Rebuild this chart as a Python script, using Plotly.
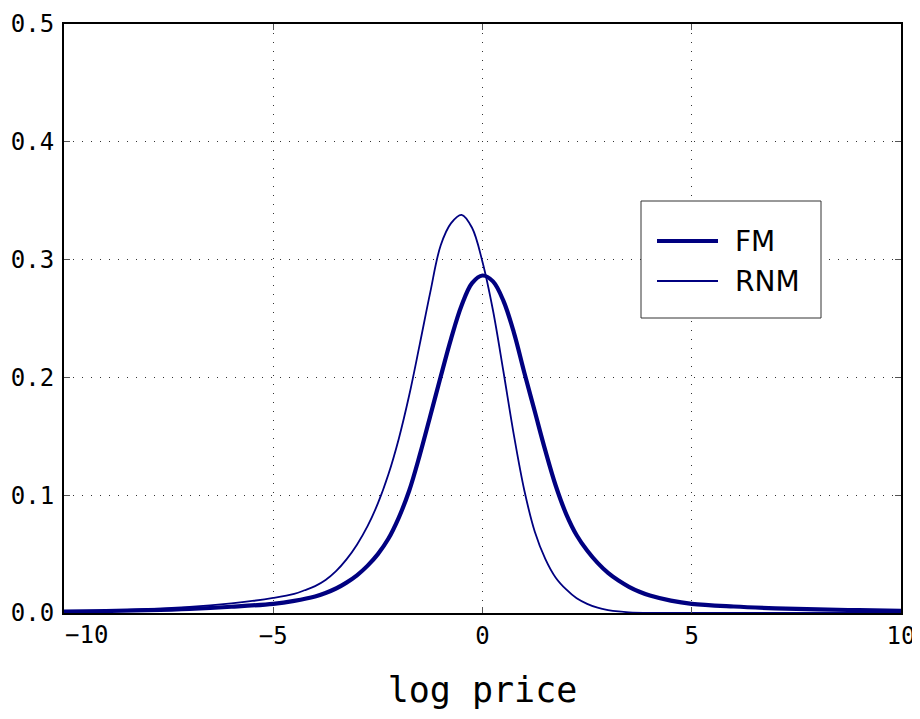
import plotly.graph_objects as go

# ---- data ----
fm_x = [-10, -9, -8, -7, -6, -5, -4.5, -4, -3.75, -3.5, -3.25, -3.0, -2.75, -2.5, -2.25,
        -2.0, -1.75, -1.5, -1.25, -1.0, -0.75, -0.5, -0.25, 0, 0.25, 0.5, 0.75, 1.0, 1.25,
        1.5, 1.75, 2.0, 2.25, 2.5, 2.75, 3.0, 3.25, 3.5, 3.75, 4.0, 4.5, 5, 6, 7, 8, 9, 10]
fm_y = [0.0012, 0.0017, 0.0024, 0.0035, 0.0053, 0.0078, 0.0103, 0.0140, 0.0170, 0.0208,
        0.0258, 0.0320, 0.0400, 0.0500, 0.0630, 0.0810, 0.1040, 0.1340, 0.1670, 0.2005,
        0.2330, 0.2610, 0.2800, 0.2865, 0.2815, 0.2650, 0.2380, 0.2040, 0.1710, 0.1380,
        0.1080, 0.0840, 0.0660, 0.0530, 0.0425, 0.0340, 0.0275, 0.0222, 0.0180, 0.0148,
        0.0105, 0.0078, 0.0055, 0.0040, 0.0030, 0.0024, 0.0019]

rnm_x = [-10, -9, -8, -7, -6, -5.5, -5, -4.5, -4.25, -4, -3.75, -3.5, -3.25, -3.0, -2.75,
         -2.5, -2.25, -2.0, -1.75, -1.5, -1.25, -1.0, -0.75, -0.5, -0.25, 0.0, 0.25, 0.5,
         0.75, 1.0, 1.25, 1.5, 1.75, 2.0, 2.25, 2.5, 2.75, 3.0, 3.25, 3.5, 4.0, 5, 7.5, 10]
rnm_y = [0.0013, 0.0020, 0.0033, 0.0052, 0.0082, 0.0102, 0.0128, 0.0163, 0.0193, 0.0228,
         0.0280, 0.0355, 0.0455, 0.0580, 0.0735, 0.0930, 0.1175, 0.1480, 0.1850, 0.2280,
         0.2720, 0.3120, 0.3310, 0.3380, 0.3270, 0.2980, 0.2570, 0.2050, 0.1510, 0.1040,
         0.0690, 0.0460, 0.0300, 0.0200, 0.0125, 0.0078, 0.0045, 0.0025, 0.0013, 0.0006,
         0.0001, 0.0, 0.0, 0.0]

x_ticks = [-10, -5, 0, 5, 10]
x_tick_text = ["", "\u22125", "0", "5", "10"]
y_ticks = [0.0, 0.1, 0.2, 0.3, 0.4, 0.5]
series_names = ["FM", "RNM"]
x_label = "log price"

navy = "#000080"
mono = "DejaVu Sans Mono"
fm_width, rnm_width = 4.2, 1.8

fig = go.Figure()
fig.add_trace(go.Scatter(x=fm_x, y=fm_y, mode="lines", name=series_names[0],
                         showlegend=False,
                         line=dict(color=navy, width=fm_width, shape="spline", smoothing=1.0)))
fig.add_trace(go.Scatter(x=rnm_x, y=rnm_y, mode="lines", name=series_names[1],
                         showlegend=False,
                         line=dict(color=navy, width=rnm_width, shape="spline", smoothing=1.0)))

axis_common = dict(
    showline=True, linecolor="black", linewidth=2, mirror="ticks",
    ticks="inside", ticklen=6, tickcolor="#555555", tickwidth=1,
    showgrid=True, gridcolor="#333333", gridwidth=1, griddash="1px,8px",
    zeroline=False, automargin=False,
    tickfont=dict(family=mono, size=24, color="black"),
)

fig.update_xaxes(range=[-10, 10], tickvals=x_ticks, ticktext=x_tick_text,
                 title=dict(text=x_label, font=dict(family=mono, size=35, color="black"),
                            standoff=29),
                 **axis_common)
fig.update_yaxes(range=[0, 0.5], tickvals=y_ticks, tickformat=".1f",
                 ticklabelstandoff=3, **axis_common)

fig.add_annotation(x=-10, y=0, xref="x", yref="paper", text="\u221210",
                   showarrow=False, xshift=22, yshift=-6, yanchor="top",
                   font=dict(family=mono, size=24, color="black"))

# ---- legend box (drawn in paper coordinates of the plot area) ----
W, H, L, T = 837.0, 589.0, 64.0, 24.0
def px(xp):
    return (xp - L) / W
def py(yp):
    return (T + H - yp) / H

fig.add_shape(type="rect", xref="paper", yref="paper",
              x0=px(641), x1=px(821), y0=py(318), y1=py(201),
              line=dict(color="#333333", width=1), fillcolor="white", layer="above")
for name, yy, lw in [(series_names[0], 241, fm_width), (series_names[1], 281, rnm_width)]:
    fig.add_shape(type="line", xref="paper", yref="paper",
                  x0=px(657), x1=px(718), y0=py(yy), y1=py(yy),
                  line=dict(color=navy, width=lw), layer="above")
    fig.add_annotation(x=px(733), y=py(yy), xref="paper", yref="paper", text=name,
                       showarrow=False, xanchor="left", yanchor="middle",
                       font=dict(family="DejaVu Sans", size=28, color="black"))

# page body has an 8px margin: shrink the figure and its left/top margins to compensate
fig.update_layout(
    width=912, height=711,
    margin=dict(l=56, r=19, t=16, b=106),
    plot_bgcolor="white", paper_bgcolor="white",
    showlegend=False,
)

fig.write_html("out.html")
